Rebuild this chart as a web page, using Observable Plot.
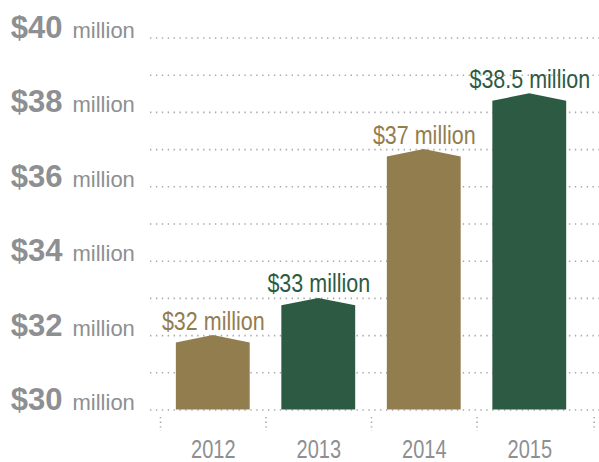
<!DOCTYPE html>
<html>
<head>
<meta charset="utf-8">
<script src="https://cdn.jsdelivr.net/npm/d3@7"></script>
<script src="https://cdn.jsdelivr.net/npm/@observablehq/plot@0.6"></script>
<style>
  html, body { margin: 0; padding: 0; background: #fff; }
  svg { overflow: visible; }
</style>
</head>
<body>
<div id="chart"></div>
<script>
const years = ["2012", "2013", "2014", "2015"];
const values = [32, 33, 37, 38.5];
const valueLabels = ["$32 million", "$33 million", "$37 million", "$38.5 million"];
const barColors = ["#927d4f", "#2d5a43", "#927d4f", "#2d5a43"];
const yTickValues = [30, 32, 34, 36, 38, 40];
const gridValues = [30, 31, 32, 33, 34, 35, 36, 37, 38, 39, 40];
const separators = [-0.5, 0.5, 1.5, 2.5, 3.61];

const sans = "'Liberation Sans', Arial, Helvetica, sans-serif";
const gray = "#8e8f92";
const halfW = 0.35, shoulder = 0.2;

const bars = years.map((year, i) => ({year, i, value: values[i], label: valueLabels[i], color: barColors[i]}));
const shapePts = bars.flatMap(b => [
  {year: b.year, x: b.i - halfW, y: b.value - shoulder, color: b.color},
  {year: b.year, x: b.i, y: b.value, color: b.color},
  {year: b.year, x: b.i + halfW, y: b.value - shoulder, color: b.color}
]);

const chart = Plot.plot({
  width: 599,
  height: 462,
  marginLeft: 150,
  marginRight: 0,
  marginTop: 37.5,
  marginBottom: 52.5,
  x: {domain: [-0.595, 3.661], axis: null},
  y: {domain: [30, 40], axis: null},
  color: {type: "identity"},
  style: {background: "#fff", overflow: "visible"},
  marks: [
    Plot.ruleY(gridValues, {y: d => d, x1: -0.595, x2: 3.661, stroke: "#a7a9ac", strokeWidth: 1.6, strokeDasharray: "1.4,4.5"}),
    Plot.ruleX(separators, {x: d => d, y1: 29.8, y2: 29.42, stroke: "#a7a9ac", strokeWidth: 1.6, strokeDasharray: "1.4,3.2"}),
    Plot.areaY(shapePts, {x: "x", y1: 30, y2: "y", z: "year", fill: "color", curve: "linear"}),
    Plot.text(bars, {x: "i", y: "value", text: "label", fill: "color", fontFamily: sans, fontSize: 25, lineAnchor: "bottom", dy: -6}),
    Plot.text(bars, {x: "i", y: 30, text: "year", fill: gray, fontFamily: sans, fontSize: 25, lineAnchor: "bottom", dy: 48}),
    Plot.text(yTickValues, {y: d => d, text: d => `$${d}`, frameAnchor: "left", textAnchor: "end", dx: -88, fill: gray, fontFamily: sans, fontWeight: "bold", fontSize: 31, lineAnchor: "bottom"}),
    Plot.text(yTickValues, {y: d => d, text: () => "million", frameAnchor: "left", textAnchor: "start", dx: -78, fill: gray, fontFamily: sans, fontSize: 22, lineAnchor: "bottom"})
  ]
});

// condense the value and year labels horizontally (reference uses a condensed face)
const textGroups = chart.querySelectorAll('g[aria-label="text"]');
const condense = [0.86, 0.8];
condense.forEach((s, k) => {
  const g = textGroups[k];
  if (!g) return;
  g.querySelectorAll("text").forEach(t => {
    const tr = t.getAttribute("transform") || "";
    t.setAttribute("transform", `${tr} scale(${s},1)`.trim());
  });
});
document.getElementById("chart").appendChild(chart);
</script>
</body>
</html>
